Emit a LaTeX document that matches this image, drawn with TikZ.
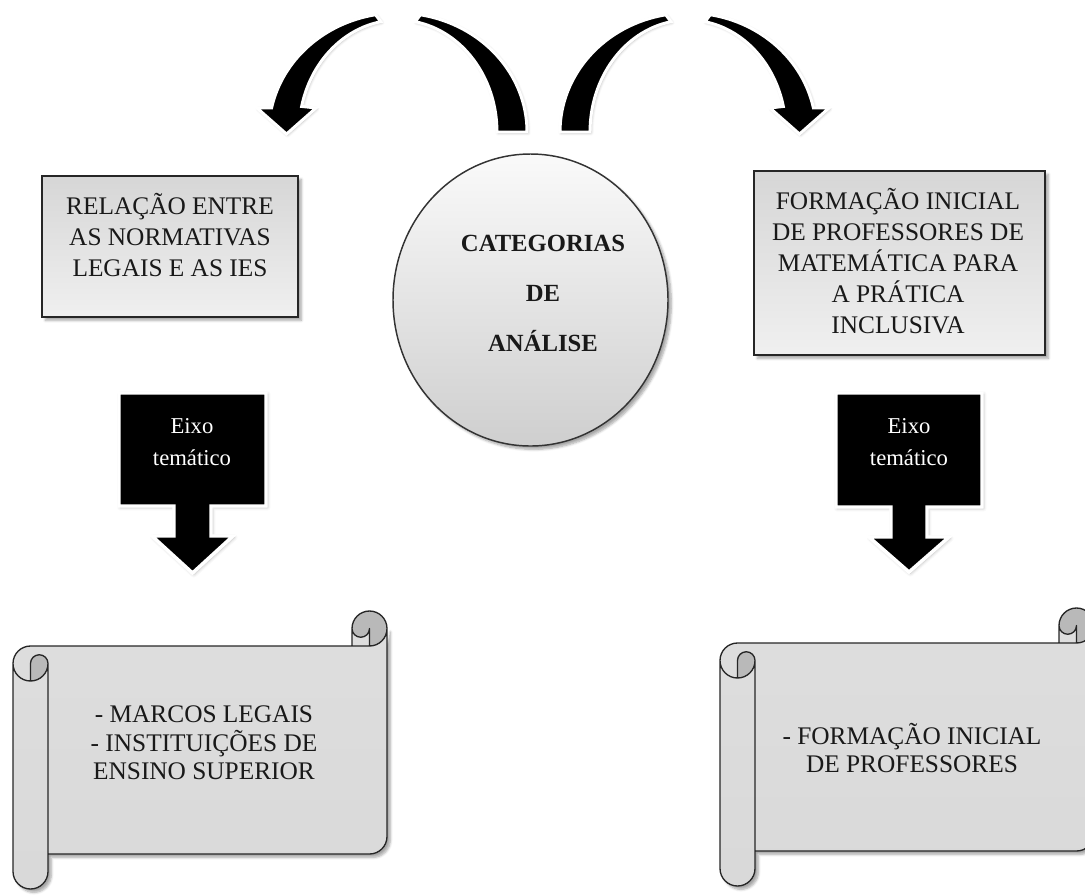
\documentclass[tikz,border=0pt]{standalone}
\usepackage{fontspec}
\setmainfont{Liberation Serif}
\usetikzlibrary{shadows.blur}
\tikzset{
  boxstyle/.style={draw=black!85, line width=1.1pt, top color=gray!32, bottom color=gray!12,
    blur shadow={shadow xshift=2.5pt, shadow yshift=-2.5pt, shadow blur steps=6, shadow opacity=35}},
  circstyle/.style={draw=black!80, line width=1.1pt, top color=gray!4, bottom color=gray!38,
    blur shadow={shadow xshift=2.5pt, shadow yshift=-2.5pt, shadow blur steps=6, shadow opacity=35}},
  arcarrow/.style={fill=black, draw=white, line width=2.2pt, line join=miter,
    blur shadow={shadow xshift=0.8pt, shadow yshift=-0.8pt, shadow blur radius=2pt, shadow opacity=30}},
  eixoarrow/.style={fill=black, draw=white, line width=2.6pt, line join=miter,
    blur shadow={shadow xshift=1pt, shadow yshift=-1pt, shadow blur radius=2.5pt, shadow opacity=30}},
  scrollbody/.style={top color=gray!26, middle color=gray!8, bottom color=gray!30},
  scrolldark/.style={fill=gray!55},
  scrollline/.style={draw=black!85, line width=1pt, line join=round},
  boxtext/.style={align=center, inner sep=0pt, text=black!90, font=\fontsize{19}{23.3}\selectfont},
  cattext/.style={align=center, inner sep=0pt, text=black!90, font=\bfseries\fontsize{18.5}{37.5}\selectfont},
  eixotext/.style={align=center, inner sep=0pt, text=white, font=\fontsize{17}{23.5}\selectfont},
  scrolltext/.style={align=center, inner sep=0pt, text=black!90, font=\fontsize{19}{21.5}\selectfont},
}
\newcommand\drawscroll[2]{%
\begin{scope}[shift={(#1,#2)}]
  \path[scrollbody, blur shadow={shadow xshift=2.5pt, shadow yshift=-2.5pt, shadow blur steps=6, shadow opacity=35}]
    (374,17.5) arc[start angle=0,end angle=90,radius=17.5]
    -- (356.5,17.5) arc[start angle=0,end angle=180,radius=8.75]
    -- (339,35) -- (17.5,35) arc[start angle=270,end angle=180,radius=17.5]
    -- (0,260.5) arc[start angle=180,end angle=0,radius=17.5]
    -- (35,243) -- (356.5,243) arc[start angle=90,end angle=0,radius=17.5]
    -- cycle;
  \path[scrolldark]
    (17.5,70) arc[start angle=90,end angle=0,radius=17.5]
    arc[start angle=0,end angle=-180,radius=8.75] -- cycle;
  \path[scrolldark]
    (356.5,35) arc[start angle=90,end angle=-180,radius=17.5]
    arc[start angle=180,end angle=0,radius=8.75] -- cycle;
  \path[scrollline]
    (0,52.5) arc[start angle=180,end angle=270,radius=17.5]
    -- (339,35) -- (339,17.5) arc[start angle=180,end angle=360,radius=17.5]
    -- (374,225.5) arc[start angle=0,end angle=90,radius=17.5]
    -- (35,243) -- (35,260.5) arc[start angle=0,end angle=180,radius=17.5]
    -- cycle
    (339,35) -- (356.5,35) arc[start angle=90,end angle=0,radius=17.5]
    (356.5,35) -- (356.5,17.5) arc[start angle=0,end angle=180,radius=8.75]
    (17.5,70) -- (17.5,52.5) arc[start angle=180,end angle=360,radius=8.75]
    arc[start angle=0,end angle=180,radius=17.5]
    (35,52.5) -- (35,243);
\end{scope}}
\begin{document}
\begin{tikzpicture}[x=0.75pt,y=-0.75pt]
\useasboundingbox (0,0) rectangle (1085,894);
\clip (0,0) rectangle (1085,894);

% curved arrow (left): tail half, then head half
\path[arcarrow] (420.4,14.8)
  arc[start angle=280,end angle=360,x radius=129,y radius=119]
  -- (497,132) arc[start angle=360,end angle=280,x radius=99,y radius=112] -- cycle;
\path[arcarrow] (286.5,134) -- (257,108) -- (271.6,108)
  arc[start angle=191.6,end angle=260,x radius=129,y radius=119]
  -- (380.8,21.7)
  arc[start angle=260,end angle=193.2,x radius=99,y radius=112]
  -- (316,108) -- cycle;
% curved arrow (right): tail half, then head half
\path[arcarrow] (665.8,14.8)
  arc[start angle=260,end angle=180,x radius=128,y radius=119]
  -- (590,132) arc[start angle=180,end angle=260,x radius=98,y radius=112] -- cycle;
\path[arcarrow] (799.5,134) -- (829,108) -- (813.4,108)
  arc[start angle=348.4,end angle=280,x radius=128,y radius=119]
  -- (705.0,21.7)
  arc[start angle=280,end angle=346.8,x radius=98,y radius=112]
  -- (770,108) -- cycle;

% boxes
\path[boxstyle] (42,176) rectangle (298,317);
\node[boxtext] (rel) at (170,235) {RELAÇÃO ENTRE\\AS NORMATIVAS\\LEGAIS E AS IES};
\path[boxstyle] (754,171) rectangle (1045,355);
\node[boxtext] (form) at (898,261) {FORMAÇÃO INICIAL\\DE PROFESSORES DE\\MATEMÁTICA PARA\\A PRÁTICA\\INCLUSIVA};

% circle
\path[circstyle] (530.5,300) ellipse[x radius=137.5,y radius=146];
\node[cattext] (cat) at (543,293) {CATEGORIAS\\DE\\ANÁLISE};

% eixo arrows
\path[eixoarrow] (119,393) -- (266,393) -- (266,506) -- (211,506) -- (211,536) -- (233,536)
  -- (192.5,573) -- (152,536) -- (174,536) -- (174,506) -- (119,506) -- cycle;
\node[eixotext] (eixo1) at (192,442) {Eixo\\temático};
\path[eixoarrow] (836,393) -- (982,393) -- (982,507) -- (927,507) -- (927,537) -- (949,537)
  -- (909,572) -- (869,537) -- (891,537) -- (891,507) -- (836,507) -- cycle;
\node[eixotext] (eixo2) at (909,442) {Eixo\\temático};

% scrolls
\drawscroll{13}{611}
\node[scrolltext] (marcos) at (204,743) {- MARCOS LEGAIS\\- INSTITUIÇÕES DE\\ENSINO SUPERIOR};
\drawscroll{720}{608}
\node[scrolltext] (forminicial) at (912,748) {- FORMAÇÃO INICIAL\\DE PROFESSORES};
\end{tikzpicture}
\end{document}
